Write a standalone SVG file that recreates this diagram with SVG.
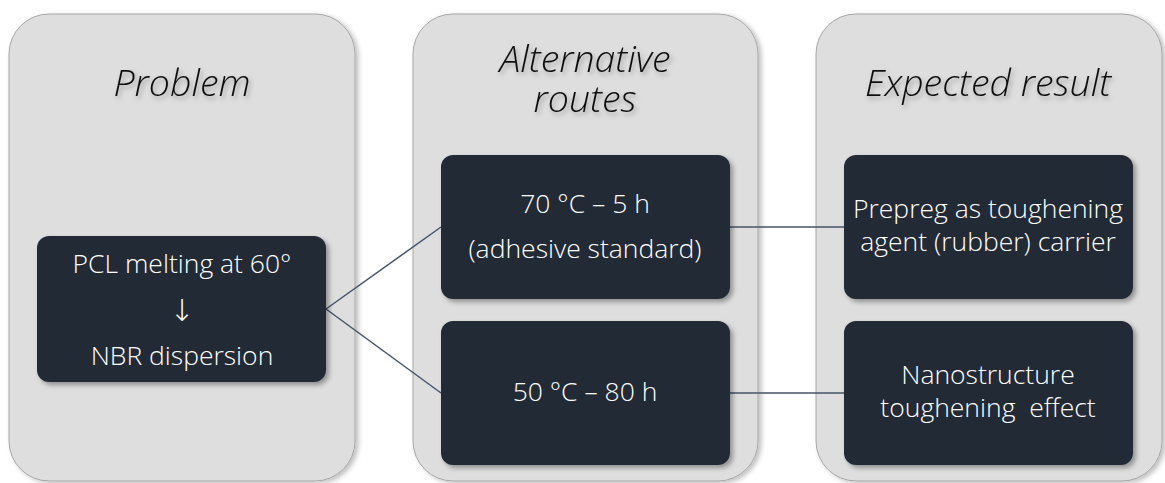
<svg xmlns="http://www.w3.org/2000/svg" width="1165" height="483" viewBox="0 0 1165 483">
<defs>
<style>
.panel{fill:#dedede;stroke:#a6a6a6;stroke-width:1}
.box{fill:#222a35}
.title{font-family:"Open Sans","Liberation Sans",sans-serif;font-style:italic;font-weight:300;font-size:37.5px;fill:#111;text-anchor:middle}
.txt{font-family:"Open Sans","Liberation Sans",sans-serif;font-weight:300;font-size:26.5px;fill:#ffffff;text-anchor:middle}
.arrow{font-family:"DejaVu Sans",sans-serif;font-weight:200;font-size:30px;fill:#ffffff;text-anchor:middle}
.conn{stroke:#44546a;stroke-width:1.5;fill:none}
</style>
<filter id="psh" x="-10%" y="-10%" width="125%" height="125%">
<feDropShadow dx="3" dy="2" stdDeviation="2.5" flood-color="#000" flood-opacity="0.25"/>
</filter>
<filter id="bsh" x="-10%" y="-10%" width="125%" height="130%">
<feDropShadow dx="3" dy="3" stdDeviation="2.5" flood-color="#000" flood-opacity="0.35"/>
</filter>
<filter id="tsh" x="-10%" y="-20%" width="125%" height="150%">
<feDropShadow dx="2" dy="3" stdDeviation="2.5" flood-color="#000" flood-opacity="0.3"/>
</filter>
</defs>

<g id="panel-problem">
<rect class="panel" x="9" y="14" width="346" height="467" rx="40" filter="url(#psh)"/>
<text class="title" x="182" y="96" filter="url(#tsh)">Problem</text>
</g>
<g id="panel-routes">
<rect class="panel" x="413" y="14" width="345" height="467" rx="40" filter="url(#psh)"/>
<text class="title" x="585" y="72" filter="url(#tsh)">Alternative</text>
<text class="title" x="585" y="112" filter="url(#tsh)">routes</text>
</g>
<g id="panel-result">
<rect class="panel" x="816" y="14" width="346" height="467" rx="40" filter="url(#psh)"/>
<text class="title" x="988" y="96" filter="url(#tsh)">Expected result</text>
</g>

<g id="connectors">
<line class="conn" x1="326" y1="309" x2="441" y2="227"/>
<line class="conn" x1="326" y1="309" x2="441" y2="393"/>
<line class="conn" x1="730" y1="227" x2="844" y2="227"/>
<line class="conn" x1="730" y1="393" x2="844" y2="393"/>
</g>

<g id="node-pcl">
<rect class="box" x="37" y="236" width="289" height="146" rx="12" filter="url(#bsh)"/>
<text class="txt" x="182" y="273">PCL melting at 60°</text>
<text class="arrow" x="182" y="321">↓</text>
<text class="txt" x="182" y="365">NBR dispersion</text>
</g>
<g id="node-70">
<rect class="box" x="441" y="155" width="289" height="144" rx="12" filter="url(#bsh)"/>
<text class="txt" x="585" y="213">70 °C – 5 h</text>
<text class="txt" x="585" y="258">(adhesive standard)</text>
</g>
<g id="node-50">
<rect class="box" x="441" y="321" width="289" height="144" rx="12" filter="url(#bsh)"/>
<text class="txt" x="585" y="401">50 °C – 80 h</text>
</g>
<g id="node-prepreg">
<rect class="box" x="844" y="155" width="289" height="144" rx="12" filter="url(#bsh)"/>
<text class="txt" x="988" y="218">Prepreg as toughening</text>
<text class="txt" x="988" y="251">agent (rubber) carrier</text>
</g>
<g id="node-nano">
<rect class="box" x="844" y="321" width="289" height="144" rx="12" filter="url(#bsh)"/>
<text class="txt" x="988" y="384">Nanostructure</text>
<text class="txt" x="988" y="417" xml:space="preserve">toughening  effect</text>
</g>
</svg>
